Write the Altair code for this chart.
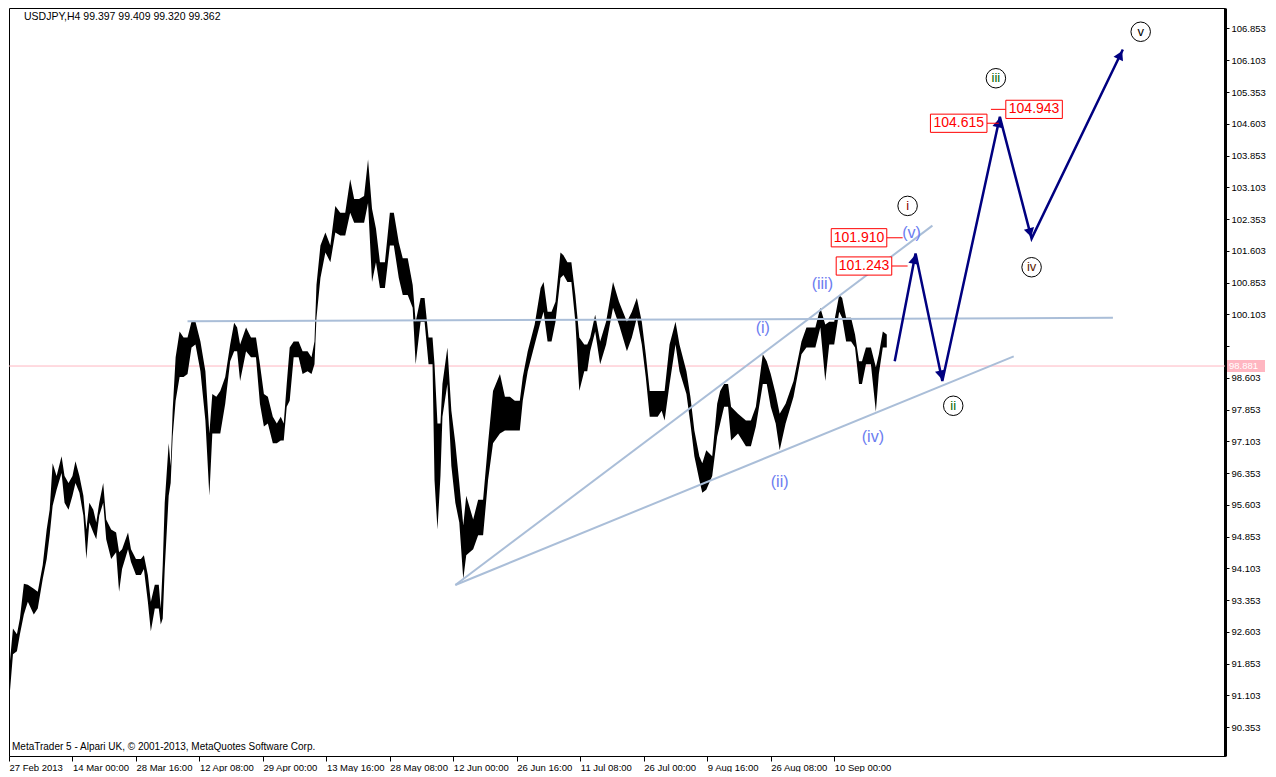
import math
import altair as alt
import pandas as pd

# ---------------- data ----------------
# sampled H4 price bars: bar index, high, low
bar_idx = [1, 4, 8, 11, 15, 19, 25, 29, 34, 38, 41, 44, 48, 53, 56, 60, 64, 67, 71, 75,
           78, 81, 85, 88, 91, 95, 98, 103, 108, 111, 114, 120, 123, 128, 133, 136, 140, 143, 147, 151,
           153, 155, 157, 161, 163, 165, 168, 172, 176, 180, 184, 188, 193, 198, 202, 205, 209, 213, 218, 223,
           227, 230, 233, 239, 244, 249, 253, 257, 261, 266, 270, 274, 277, 280, 283, 287, 292, 296, 301, 305,
           308, 310, 314, 319, 324, 329, 334, 339, 344, 348, 353, 358, 362, 366, 370, 374, 379, 384, 388, 393,
           397, 402, 407, 410, 415, 419, 423, 427, 429, 432, 435, 437, 442, 446, 450, 454, 458, 461, 468, 473,
           478, 483, 488, 495, 500, 505, 510, 515, 518, 523, 530, 536, 539, 543, 547, 551, 556, 559, 563, 567,
           571, 575, 580, 583, 586, 591, 596, 602, 609, 615, 623, 628, 633, 638, 642, 646, 650, 654, 658, 661,
           666, 672, 676, 683, 687, 691, 696, 699, 703, 709, 714, 717, 721, 725, 728, 735, 743, 748, 753, 760,
           764, 768, 773, 777, 783, 791, 799, 804, 809, 813, 818, 823, 827, 832, 837, 840, 844, 849, 853, 857,
           860, 864, 869, 874, 877, 881, 885]
bar_high = [91.913, 92.684, 92.544, 92.918, 93.736, 93.712, 93.619, 93.549, 94.180, 95.021, 95.488, 96.587, 96.283, 96.751, 96.283, 96.119, 96.283, 96.634, 96.283, 95.816,
            95.021, 95.652, 95.488, 95.185, 95.652, 96.119, 95.255, 95.021, 94.951, 94.484, 94.554, 94.951, 94.554, 94.320, 94.320, 94.413, 93.946, 93.315, 93.712, 93.712,
            93.151, 94.180, 95.652, 97.054, 96.517, 97.826, 99.088, 99.695, 99.555, 99.555, 99.929, 99.929, 99.461, 98.760, 97.288, 98.223, 98.153, 98.293, 98.620, 99.391,
            99.905, 99.789, 99.391, 99.789, 99.555, 99.555, 98.924, 98.223, 98.153, 97.685, 97.522, 97.685, 97.522, 98.457, 99.321, 99.461, 99.461, 99.228, 99.228, 99.088,
            99.461, 100.794, 101.728, 102.032, 101.728, 102.663, 102.499, 102.499, 103.294, 102.827, 102.827, 102.897, 103.761, 102.593, 102.126, 101.331, 101.331, 102.499, 102.499, 101.798,
            101.424, 101.424, 100.794, 99.929, 100.490, 100.490, 99.555, 99.555, 98.924, 97.522, 97.522, 98.457, 99.321, 97.826, 97.054, 96.119, 95.115, 95.816, 95.255, 95.722,
            95.722, 97.054, 98.293, 98.690, 98.153, 98.153, 98.059, 98.059, 98.620, 99.228, 99.859, 100.723, 100.864, 100.162, 100.162, 100.396, 101.565, 101.495, 101.331, 101.331,
            100.560, 99.555, 99.391, 99.391, 99.555, 100.092, 99.461, 99.929, 100.864, 100.396, 99.929, 100.162, 100.490, 99.929, 99.158, 98.293, 98.293, 98.293, 98.293, 98.293,
            99.391, 99.929, 99.391, 98.760, 98.153, 97.358, 96.751, 96.587, 96.891, 96.751, 97.989, 98.293, 98.457, 98.457, 97.919, 97.755, 97.592, 97.592, 97.919, 99.158,
            98.994, 98.690, 98.223, 97.755, 97.989, 98.527, 99.461, 99.789, 99.789, 99.789, 100.256, 99.859, 99.929, 99.929, 100.560, 100.490, 100.022, 100.022, 99.625, 98.994,
            98.994, 99.321, 99.321, 98.854, 99.158, 99.695, 99.625]
bar_low = [91.212, 92.076, 92.146, 92.544, 93.011, 93.315, 93.011, 93.151, 93.853, 94.320, 94.881, 95.582, 95.956, 96.353, 95.652, 95.488, 95.816, 96.119, 95.886, 95.348,
           94.320, 95.185, 94.951, 94.787, 95.348, 95.652, 94.787, 94.320, 94.484, 93.549, 94.086, 94.554, 94.250, 93.946, 93.946, 94.086, 93.315, 92.614, 93.151, 93.151,
           92.777, 92.918, 94.086, 95.816, 96.119, 97.218, 98.059, 98.620, 98.620, 98.690, 99.321, 99.391, 98.760, 97.592, 95.816, 97.288, 97.288, 97.288, 97.989, 98.994,
           99.228, 99.228, 98.527, 99.228, 99.088, 99.088, 97.989, 97.451, 97.522, 97.054, 97.054, 97.124, 97.124, 97.919, 98.059, 99.088, 99.088, 98.690, 98.760, 98.690,
           98.924, 100.022, 100.957, 101.565, 101.331, 102.032, 101.962, 101.962, 102.499, 102.266, 102.266, 102.266, 102.733, 100.864, 101.331, 100.723, 100.723, 101.728, 101.728, 100.957,
           100.560, 100.560, 100.256, 98.924, 99.929, 99.929, 98.924, 98.924, 96.190, 95.021, 96.283, 97.685, 98.457, 96.517, 95.652, 95.185, 93.853, 94.413, 94.554, 94.881,
           94.881, 96.190, 97.054, 97.288, 97.358, 97.358, 97.358, 97.358, 98.059, 98.760, 99.391, 99.929, 100.162, 99.461, 99.461, 99.929, 100.957, 101.031, 100.864, 100.864,
           99.929, 98.293, 98.760, 98.760, 99.228, 99.695, 98.924, 99.391, 100.256, 99.859, 99.228, 99.555, 100.022, 99.391, 98.620, 97.685, 97.685, 97.685, 97.826, 97.592,
           98.457, 99.391, 98.760, 98.223, 97.522, 96.751, 96.190, 95.886, 95.956, 96.283, 97.218, 97.522, 97.919, 97.919, 97.124, 97.288, 96.984, 96.984, 97.451, 98.457,
           98.457, 97.919, 97.522, 96.891, 97.522, 98.153, 99.158, 99.321, 99.321, 99.321, 99.789, 98.527, 99.391, 99.391, 100.162, 100.022, 99.461, 99.461, 99.321, 98.457,
           98.457, 98.924, 98.924, 97.802, 98.690, 99.321, 99.321]

# x-axis tick labels (one every 64 bars)
x_tick_labels = ["27 Feb 2013", "14 Mar 00:00", "28 Mar 16:00", "12 Apr 08:00", "29 Apr 00:00",
                 "13 May 16:00", "28 May 08:00", "12 Jun 00:00", "26 Jun 16:00", "11 Jul 08:00",
                 "26 Jul 00:00", "9 Aug 16:00", "26 Aug 08:00", "10 Sep 00:00"]
x_tick_bars = [64 * i for i in range(len(x_tick_labels))]

# y-axis tick values
y_ticks = [90.353, 91.103, 91.853, 92.603, 93.353, 94.103, 94.853, 95.603, 96.353, 97.103,
           97.853, 98.603, 99.353, 100.103, 100.853, 101.603, 102.353, 103.103, 103.853,
           104.603, 105.353, 106.103, 106.853]

current_price = 98.881
header_text = "USDJPY,H4  99.397 99.409 99.320 99.362"
footer_text = "MetaTrader 5 - Alpari UK, \u00a9 2001-2013, MetaQuotes Software Corp."

# trend lines (bar, price) pairs
trend_name = ["flat", "flat", "upper", "upper", "lower", "lower"]
trend_bar = [180, 1113, 450, 931, 450, 1013]
trend_price = [99.936, 100.020, 93.710, 102.196, 93.710, 99.110]

# forecast arrow path
arrow_bar = [893, 914, 941, 999, 1031, 1123]
arrow_price = [98.994, 101.541, 98.527, 104.766, 101.892, 106.355]

# circled wave labels
circ_text = ["i", "ii", "iii", "iv", "v"]
circ_bar = [906, 952, 995, 1031, 1141]
circ_price = [102.663, 97.942, 105.678, 101.214, 106.776]
circ_color = ["#8b0000", "#006400", "#006400", "#5a1a00", "#000000"]

# sub-wave labels
sub_text = ["(i)", "(ii)", "(iii)", "(iv)", "(v)"]
sub_bar = [760, 777, 820, 871, 910]
sub_price = [99.789, 96.143, 100.817, 97.194, 102.032]

# red price labels
lab_text = ["101.910", "101.243", "104.615", "104.943"]
lab_price = [101.910, 101.243, 104.615, 104.943]
lab_b0 = [829, 834, 929, 1005]
lab_b1 = [885, 890, 986, 1062]
con_b0 = [885, 890, 986, 990]
con_b1 = [901, 906, 998, 1005]

# ---------------- layout ----------------
W, H = 1216, 748
XMAX = 1226
YMIN, YMAX = 89.67, 107.337
FONT = "Liberation Sans"

xs = alt.Scale(domain=[0, XMAX], nice=False, zero=False)
ys = alt.Scale(domain=[YMIN, YMAX], nice=False, zero=False)

lbl_list = "[" + ",".join("'" + s + "'" for s in x_tick_labels) + "]"
x_axis = alt.Axis(values=x_tick_bars, labelExpr=lbl_list + "[round(datum.value/64)]",
                  title=None, grid=False, tickSize=5, labelAlign="left", labelPadding=1,
                  labelFont=FONT, labelFontSize=9.5, labelColor="black", domainColor="black",
                  tickColor="black", labelFlush=False, labelOverlap=False, labelBound=False)
y_axis = alt.Axis(orient="right", values=y_ticks,
                  labelExpr="abs(datum.value-99.353)<0.01 ? '' : format(datum.value, '.3f')",
                  title=None, grid=False, tickSize=4, labelPadding=2, labelFont=FONT,
                  labelFontSize=9.5, labelColor="black", domainColor="black", domainWidth=3,
                  tickColor="black", labelOverlap=False, labelFlush=False, labelBound=False)


def X(field):
    return alt.X(field, scale=xs, axis=x_axis)


def Y(field):
    return alt.Y(field, scale=ys, axis=y_axis)


bars = pd.DataFrame({"bar": bar_idx, "high": bar_high, "low": bar_low})
price_layer = alt.Chart(bars).mark_area(color="black", interpolate="linear").encode(
    x=X("bar:Q"), y=Y("low:Q"), y2="high:Q")

cur_df = pd.DataFrame({"b0": [0], "b1": [XMAX], "p": [current_price],
                       "pt": [current_price + 0.14], "pb": [current_price - 0.14],
                       "t": [f"{current_price:.3f}"]})
cur_line = alt.Chart(cur_df).mark_rule(color="#ffb6c1", strokeWidth=1).encode(
    x=X("b0:Q"), x2="b1:Q", y=Y("p:Q"))
cur_box = alt.Chart(cur_df).mark_rect(color="#ffb6c1", clip=False).encode(
    x=alt.value(W + 2), x2=alt.value(W + 40), y=Y("pt:Q"), y2="pb:Q")
cur_txt = alt.Chart(cur_df).mark_text(color="white", align="left", baseline="middle", font=FONT,
                                      fontSize=9.5, clip=False).encode(
    x=alt.value(W + 4), y=Y("p:Q"), text="t:N")

trend_df = pd.DataFrame({"name": trend_name, "bar": trend_bar, "price": trend_price})
trend = alt.Chart(trend_df).mark_line(color="#aabed8", strokeWidth=2).encode(
    x=X("bar:Q"), y=Y("price:Q"), detail="name:N")

# arrows
ppb = W / XMAX
ppp = H / (YMAX - YMIN)
arr_df = pd.DataFrame({"bar": arrow_bar, "price": arrow_price, "ord": list(range(len(arrow_bar)))})
heads = []
for i in range(1, len(arrow_bar)):
    dx = (arrow_bar[i] - arrow_bar[i - 1]) * ppb
    dy = -(arrow_price[i] - arrow_price[i - 1]) * ppp
    ln = math.hypot(dx, dy)
    ux, uy = dx / ln, dy / ln
    ang = math.degrees(math.atan2(dx, -dy)) % 360
    hb = arrow_bar[i] - 6 * ux / ppb
    hp = arrow_price[i] + 6 * uy / ppp
    heads.append({"bar": hb, "price": hp, "ang": ang})
head_df = pd.DataFrame(heads)
arrow_line = alt.Chart(arr_df).mark_line(color="#000080", strokeWidth=2.5).encode(
    x=X("bar:Q"), y=Y("price:Q"), order="ord:Q")
arrow_heads = alt.Chart(head_df).mark_point(shape="triangle-up", filled=True, color="#000080",
                                            size=110, opacity=1).encode(
    x=X("bar:Q"), y=Y("price:Q"), angle=alt.Angle("ang:Q", scale=None))

# red labels
lab_df = pd.DataFrame({"t": lab_text, "p": lab_price, "pt": [p + 0.215 for p in lab_price],
                       "pb": [p - 0.215 for p in lab_price], "b0": lab_b0, "b1": lab_b1,
                       "bm": [(a + b) / 2 for a, b in zip(lab_b0, lab_b1)],
                       "c0": con_b0, "c1": con_b1})
lab_con = alt.Chart(lab_df).mark_rule(color="red", strokeWidth=1).encode(
    x=X("c0:Q"), x2="c1:Q", y=Y("p:Q"))
lab_box = alt.Chart(lab_df).mark_rect(fill="white", stroke="red", strokeWidth=1).encode(
    x=X("b0:Q"), x2="b1:Q", y=Y("pt:Q"), y2="pb:Q")
lab_txt = alt.Chart(lab_df).mark_text(color="red", font=FONT, fontSize=14, baseline="middle").encode(
    x=X("bm:Q"), y=Y("p:Q"), text="t:N")

# wave labels
circ_df = pd.DataFrame({"t": circ_text, "bar": circ_bar, "price": circ_price, "c": circ_color})
circ_pt = alt.Chart(circ_df).mark_point(shape="circle", size=380, filled=True, fill="white",
                                        stroke="black", strokeWidth=1, opacity=1).encode(
    x=X("bar:Q"), y=Y("price:Q"))
circ_txt = alt.Chart(circ_df).mark_text(font=FONT, fontSize=13, baseline="middle").encode(
    x=X("bar:Q"), y=Y("price:Q"), text="t:N", color=alt.Color("c:N", scale=None))

sub_df = pd.DataFrame({"t": sub_text, "bar": sub_bar, "price": sub_price})
sub_txt = alt.Chart(sub_df).mark_text(font=FONT, fontSize=16, baseline="middle",
                                      color="#6b7cf0").encode(
    x=X("bar:Q"), y=Y("price:Q"), text="t:N")

hdr_df = pd.DataFrame({"t": [header_text, footer_text], "kind": ["h", "f"]})
header = alt.Chart(hdr_df).transform_filter("datum.kind=='h'").mark_text(
    font=FONT, fontSize=10.5, align="left", baseline="middle", color="black").encode(
    x=alt.value(15), y=alt.value(9), text="t:N")
footer = alt.Chart(hdr_df).transform_filter("datum.kind=='f'").mark_text(
    font=FONT, fontSize=10, align="left", baseline="middle", color="black").encode(
    x=alt.value(3), y=alt.value(H - 9), text="t:N")

chart = alt.layer(
    cur_line, price_layer, trend, arrow_line, arrow_heads,
    lab_con, lab_box, lab_txt, circ_pt, circ_txt, sub_txt, cur_box, cur_txt, header, footer
).properties(width=W, height=H, padding=0, background="white").configure_view(
    stroke="black", strokeWidth=1)

chart.save("out.html", embed_options={"renderer": "svg", "actions": False})
